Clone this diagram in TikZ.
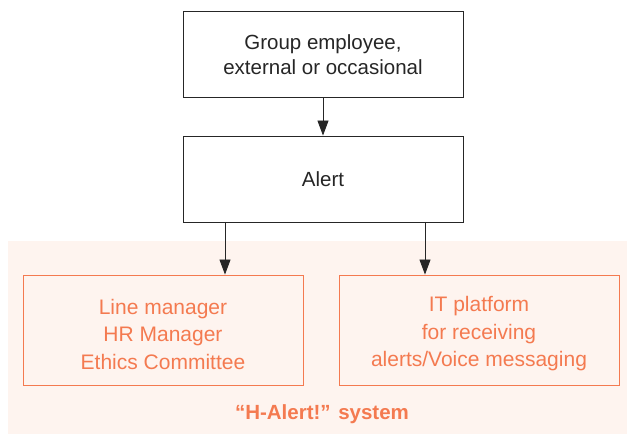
\documentclass[tikz,border=0pt]{standalone}
\usepackage{fontspec}
\setmainfont{Liberation Sans}
\usetikzlibrary{arrows.meta}
\definecolor{hor}{HTML}{F47A50}
\definecolor{hbg}{HTML}{FEF4EF}
\begin{document}
\begin{tikzpicture}[x=1pt,y=-1pt,
  blackbox/.style={draw=black!85,line width=0.9pt,minimum width=280pt,minimum height=86pt,align=center,
    font=\fontsize{20.5}{25}\selectfont,text=black!85},
  orbox/.style={draw=hor,line width=0.9pt,minimum width=280pt,minimum height=110pt},
  ortext/.style={align=center,font=\fontsize{21}{27.5}\selectfont,text=hor},
  conn/.style={draw=black!85,line width=0.9pt,-{Triangle[length=15pt,width=11pt]}}]
\useasboundingbox (0,0) rectangle (627,435);
\fill[hbg] (8,241) rectangle (627,434);
\node[blackbox] (grp) at (323,54.5) {Group employee,\\external or occasional};
\node[blackbox] (alert) at (323,179) {Alert};
\node[orbox] (mgr) at (163,330) {};
\node[orbox] (itp) at (479,330) {};
\node[ortext] (mgrt) at (163,334) {Line manager\\HR Manager\\Ethics Committee};
\node[ortext] (itpt) at (479,334) {IT platform\\for receiving\\alerts/Voice messaging};
\node[text=hor,font=\fontsize{20.5}{25}\selectfont\bfseries] (sys) at (322,414) {“H-Alert!” system};
\draw[conn] (grp) -- (alert);
\coordinate (s1) at (225,222);
\coordinate (s2) at (425,222);
\draw[conn] (s1) -- (s1 |- mgr.north);
\draw[conn] (s2) -- (s2 |- itp.north);
\end{tikzpicture}
\end{document}
